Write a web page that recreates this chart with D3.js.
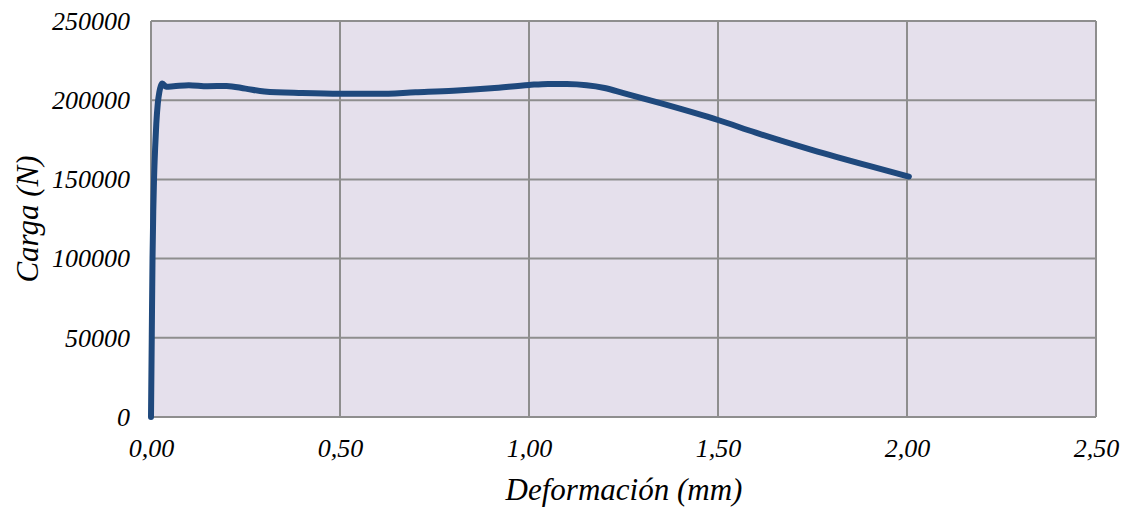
<!DOCTYPE html>
<html>
<head>
<meta charset="utf-8">
<script src="https://cdn.jsdelivr.net/npm/d3@7"></script>
<style>
  body { margin: 0; background: #fff; }
</style>
</head>
<body>
<div id="chart"></div>
<script>
(function() {
"use strict"

// deformation (mm) and load (N)
var deformacion = [0, 0.002, 0.004, 0.006, 0.008, 0.011, 0.014, 0.018, 0.022, 0.026, 0.03, 0.04, 0.06, 0.1, 0.15, 0.2, 0.25, 0.3, 0.4, 0.5, 0.6, 0.7, 0.8, 0.9, 1.0, 1.05, 1.1, 1.2, 1.25, 1.35, 1.5, 1.6, 1.75, 1.9, 2.005];
var carga = [0, 50000, 100000, 130000, 150000, 170000, 185000, 198000, 205000, 209000, 210500, 208500, 208800, 209500, 208800, 209000, 207300, 205500, 204500, 204000, 204000, 205000, 206000, 207500, 209600, 210300, 210200, 207700, 204500, 198000, 187500, 179500, 168500, 158500, 151800];

var xTicks = [0, 0.5, 1.0, 1.5, 2.0, 2.5];
var yTicks = [0, 50000, 100000, 150000, 200000, 250000];

var W = 1132, H = 508;
var margin = {top: 21, right: 36, bottom: 91, left: 151};
var w = W - margin.left - margin.right,
    h = H - margin.top - margin.bottom;
var serif = "Liberation Serif";

var svg = d3.select("#chart").append("svg")
    .attr("width", W)
    .attr("height", H);

var g = svg.append("g")
    .attr("transform", "translate(" + margin.left + "," + margin.top + ")");

var x = d3.scaleLinear().domain([0, 2.5]).range([0, w]);
var y = d3.scaleLinear().domain([0, 250000]).range([h, 0]);

// plot background
g.append("rect")
    .attr("width", w)
    .attr("height", h)
    .style("fill", "#e5e0ec");

// grid lines
g.selectAll(".vgrid").data(xTicks).enter().append("line")
    .attr("x1", function(d) { return x(d); })
    .attr("x2", function(d) { return x(d); })
    .attr("y1", 0).attr("y2", h)
    .style("stroke", "#8e8e8e").style("stroke-width", 2);

g.selectAll(".hgrid").data(yTicks).enter().append("line")
    .attr("x1", 0).attr("x2", w)
    .attr("y1", function(d) { return y(d); })
    .attr("y2", function(d) { return y(d); })
    .style("stroke", "#8e8e8e").style("stroke-width", 2);

// axes (labels only, lines drawn by grid)
var fmtX = function(d) { return d3.format(".2f")(d).replace(".", ","); };

var xAxis = g.append("g")
    .attr("transform", "translate(0," + h + ")")
    .call(d3.axisBottom(x).tickValues(xTicks).tickFormat(fmtX).tickSize(0).tickPadding(22));
xAxis.select(".domain").remove();
xAxis.selectAll("text")
    .style("font-family", serif)
    .style("font-size", "26px")
    .style("font-style", "italic")
    .style("fill", "#000");

var yAxis = g.append("g")
    .call(d3.axisLeft(y).tickValues(yTicks).tickFormat(d3.format("d")).tickSize(0).tickPadding(21));
yAxis.select(".domain").remove();
yAxis.selectAll("text")
    .style("font-family", serif)
    .style("font-size", "26px")
    .style("font-style", "italic")
    .style("fill", "#000");

// curve
var line = d3.line()
    .x(function(d, i) { return x(deformacion[i]); })
    .y(function(d) { return y(d); })
    .curve(d3.curveMonotoneX);

g.append("path")
    .datum(carga)
    .attr("d", line)
    .style("fill", "none")
    .style("stroke", "#1f497d")
    .style("stroke-width", 6)
    .style("stroke-linecap", "round")
    .style("stroke-linejoin", "round");

// axis titles
svg.append("text")
    .attr("x", 624)
    .attr("y", 500)
    .style("font-family", serif)
    .style("font-style", "italic")
    .style("font-size", "31px")
    .style("text-anchor", "middle")
    .text("Deformación (mm)");

svg.append("text")
    .attr("transform", "translate(38," + (margin.top + h / 2) + ") rotate(-90)")
    .style("font-family", serif)
    .style("font-style", "italic")
    .style("font-size", "31px")
    .style("text-anchor", "middle")
    .text("Carga (N)");
})();
</script>
</body>
</html>
